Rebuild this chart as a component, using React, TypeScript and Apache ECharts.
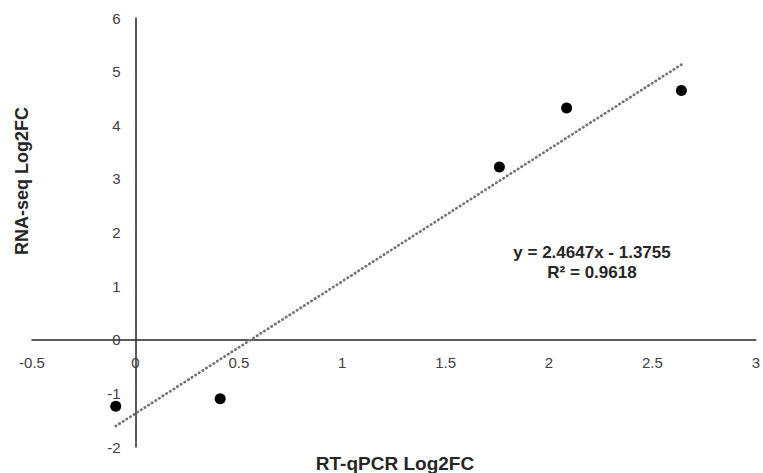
import React, { useEffect, useRef } from "react";
import * as echarts from "echarts";

const xValues = [-0.095, 0.41, 1.76, 2.085, 2.64];
const yValues = [-1.24, -1.1, 3.22, 4.32, 4.65];
const trendSlope = 2.4647;
const trendIntercept = -1.3755;
const rSquared = 0.9618;
const xTitle = "RT-qPCR Log2FC";
const yTitle = "RNA-seq Log2FC";

const X_MIN = -0.5;
const X_MAX = 3;
const Y_MIN = -2;
const Y_MAX = 6;

export default function App() {
  const ref = useRef<HTMLDivElement>(null);
  useEffect(() => {
    if (!ref.current) return;
    const chart = echarts.init(ref.current, null, { renderer: "svg" });
    const points = xValues.map((x, i) => [x, yValues[i]]);
    const xmin = Math.min(...xValues);
    const xmax = Math.max(...xValues);
    const trend = [
      [xmin, trendSlope * xmin + trendIntercept],
      [xmax, trendSlope * xmax + trendIntercept],
    ];
    const font = "'Liberation Sans', Arial, sans-serif";
    const gridLeft = 32;
    const gridRight = 6;
    const gridTop = 18;
    const gridBottom = 26;
    const gw = 763 - gridLeft - gridRight;
    const gh = 473 - gridTop - gridBottom;
    // shift axes (line + labels) so they sit at the other axis' zero
    const xAxisOffset = -((0 - Y_MIN) / (Y_MAX - Y_MIN)) * gh;
    const yAxisOffset = -((0 - X_MIN) / (X_MAX - X_MIN)) * gw;
    chart.setOption({
      animation: false,
      backgroundColor: "#ffffff",
      grid: { left: gridLeft, right: gridRight, top: gridTop, bottom: gridBottom, containLabel: false },
      xAxis: {
        type: "value",
        min: X_MIN,
        max: X_MAX,
        interval: 0.5,
        offset: xAxisOffset,
        axisLine: { onZero: false, lineStyle: { color: "#262626", width: 1.5 } },
        axisTick: { show: false },
        splitLine: { show: false },
        axisLabel: { color: "#404040", fontSize: 15, fontFamily: font, margin: 15 },
      },
      yAxis: {
        type: "value",
        min: Y_MIN,
        max: Y_MAX,
        interval: 1,
        offset: yAxisOffset,
        axisLine: { show: true, onZero: false, lineStyle: { color: "#262626", width: 1.5 } },
        axisTick: { show: false },
        splitLine: { show: false },
        axisLabel: { color: "#404040", fontSize: 15, fontFamily: font, margin: 15 },
      },
      series: [
        {
          type: "line",
          data: trend,
          showSymbol: false,
          symbol: "none",
          lineStyle: { color: "#737373", width: 2.7, type: [0.4, 3.9], cap: "round" },
          z: 1,
        },
        {
          type: "scatter",
          data: points,
          symbol: "circle",
          symbolSize: 11,
          itemStyle: { color: "#000000", opacity: 1 },
          z: 3,
        },
      ],
      graphic: [
        {
          type: "text",
          x: 395,
          y: 463,
          style: {
            text: xTitle,
            font: `bold 19px ${font}`,
            fill: "#262626",
            textAlign: "center",
            textVerticalAlign: "middle",
          },
        },
        {
          type: "text",
          x: 22,
          y: 181,
          rotation: Math.PI / 2,
          style: {
            text: yTitle,
            font: `bold 18px ${font}`,
            fill: "#262626",
            textAlign: "center",
            textVerticalAlign: "middle",
          },
        },
        {
          type: "text",
          x: 592,
          y: 252,
          style: {
            text: `y = ${trendSlope}x - ${Math.abs(trendIntercept)}`,
            font: `bold 17px ${font}`,
            fill: "#262626",
            textAlign: "center",
            textVerticalAlign: "middle",
          },
        },
        {
          type: "text",
          x: 592,
          y: 272,
          style: {
            text: `R² = ${rSquared}`,
            font: `bold 17px ${font}`,
            fill: "#262626",
            textAlign: "center",
            textVerticalAlign: "middle",
          },
        },
      ],
    });
    return () => chart.dispose();
  }, []);
  return (
    <div
      ref={ref}
      style={{ position: "fixed", left: 0, top: 0, width: 763, height: 473 }}
    />
  );
}
